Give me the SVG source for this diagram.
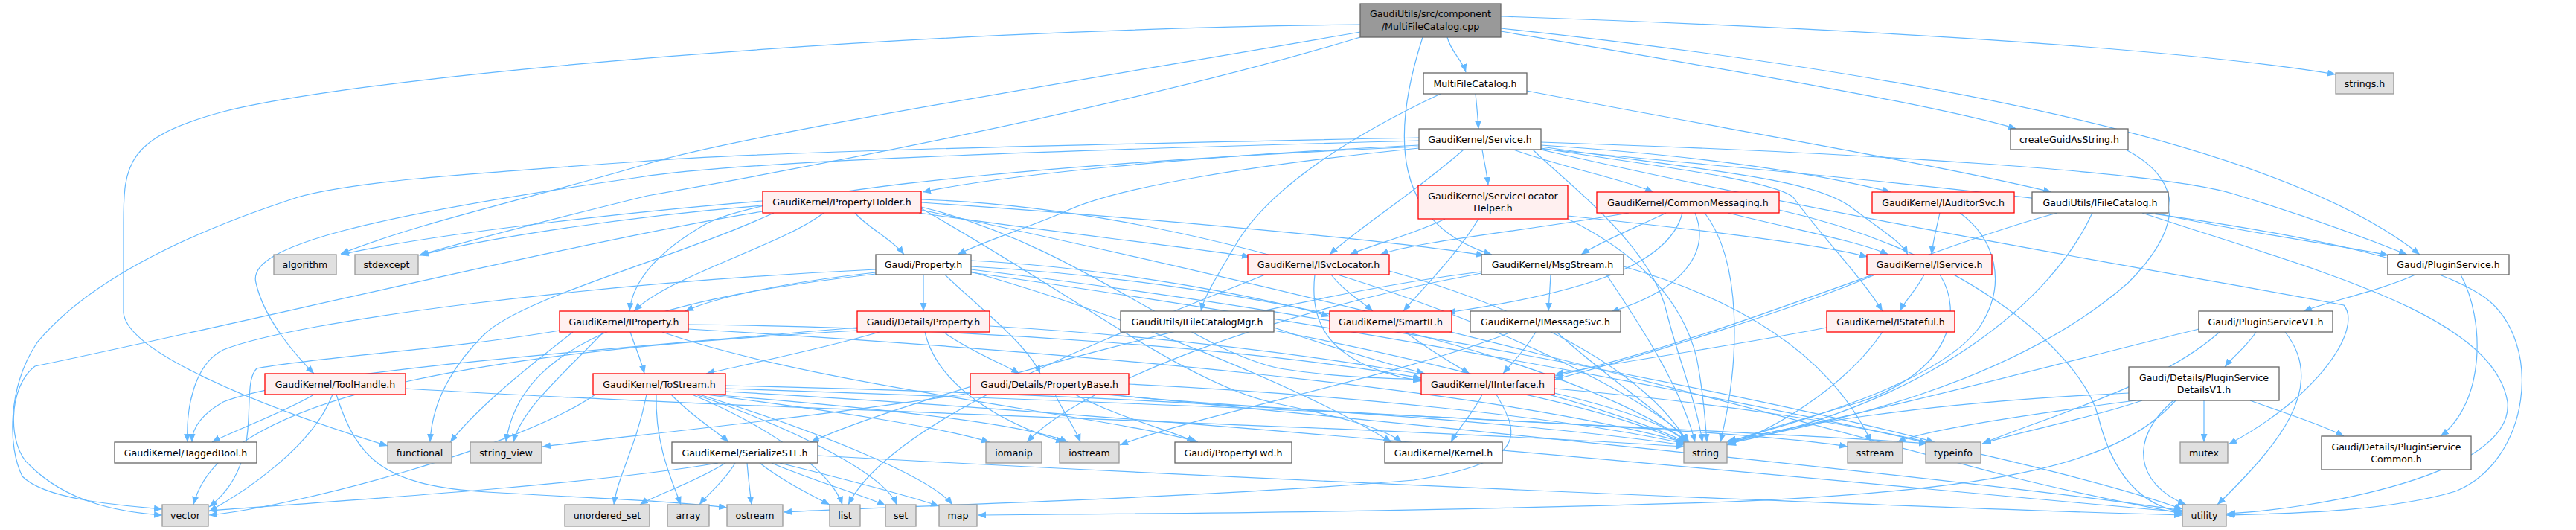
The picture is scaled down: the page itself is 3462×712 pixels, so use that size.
<svg xmlns="http://www.w3.org/2000/svg" width="3462" height="712" viewBox="0 0 3462 712">
<defs>
<marker id="ah" viewBox="0 0 11 9" refX="11" refY="4.5" markerUnits="userSpaceOnUse" markerWidth="11" markerHeight="9" orient="auto">
<path d="M0,0 L11,4.5 L0,9 z" fill="#63b8ff"/>
</marker>
<style>
.e{fill:none;stroke:#63b8ff;stroke-width:1.2;marker-end:url(#ah)}
rect{stroke-width:1.3}
.root{fill:#999999;stroke:#666666}
.w{fill:#ffffff;stroke:#666666}
.g{fill:#e0e0e0;stroke:#999999}
.r{fill:#fff0f0;stroke:#ff0000}
text{font-family:"DejaVu Sans","Liberation Sans",Arial,sans-serif;font-size:12.6px;fill:#000000;text-anchor:middle}
</style>
</defs>
<rect x="0" y="0" width="3462" height="712" fill="#ffffff"/>
<g id="connectors">
<!-- root -->
<path class="e" d="M1945,50 C1950,70 1965,80 1970,97"/>
<path class="e" d="M2017,22 C2400,35 2900,60 3139,100"/>
<path class="e" d="M2017,42 C2300,90 2600,140 2710,173"/>
<path class="e" d="M1912,50 C1870,180 1870,300 2005,342"/>
<path class="e" d="M2017,38 C2500,90 3050,180 3252,342"/>
<path class="e" d="M1828,33 C1200,40 500,100 300,150 C170,185 166,220 166,300 L166,420 C170,470 330,540 521,599"/>
<path class="e" d="M1828,43 C1500,100 1000,180 870,220 C700,270 560,300 458,341"/>
<path class="e" d="M1828,50 C1500,150 1000,240 870,263 C760,290 640,320 563,343"/>
<!-- MultiFileCatalog.h -->
<path class="e" d="M1983,126 C1985,145 1986,155 1987,173"/>
<path class="e" d="M2052,122 C2300,170 2600,220 2757,258"/>
<path class="e" d="M1936,126 C1800,190 1700,260 1660,330 C1630,380 1618,400 1614,418"/>
<!-- Service.h -->
<path class="e" d="M1907,195 C1600,210 1350,235 1240,258"/>
<path class="e" d="M1992,201 C1995,220 1998,230 2000,249"/>
<path class="e" d="M2034,201 C2100,225 2180,240 2222,258"/>
<path class="e" d="M2071,195 C2300,210 2450,235 2541,258"/>
<path class="e" d="M1967,201 C1900,260 1820,310 1787,342"/>
<path class="e" d="M2071,197 C2300,230 2440,240 2490,280 C2530,310 2555,325 2564,342"/>
<path class="e" d="M2071,199 C2200,220 2380,240 2410,265 C2450,320 2500,370 2530,418"/>
<path class="e" d="M2071,191 C2500,205 2900,230 3000,260 C3100,290 3180,320 3235,342"/>
<path class="e" d="M1907,199 C1700,220 1500,250 1430,285 C1370,310 1320,325 1287,342"/>
<path class="e" d="M1907,197 C1500,215 1050,250 950,300 C880,340 850,380 846,418"/>
<path class="e" d="M1907,189 C1500,200 1000,215 860,238 C500,290 330,330 344,380 C355,430 400,480 422,502"/>
<path class="e" d="M1907,185 C1400,195 1000,205 860,217 C600,235 470,245 400,265 C200,330 100,400 50,460 C10,520 10,600 30,640 C60,670 150,678 218,684"/>
<path class="e" d="M2071,201 C2500,300 3000,380 3150,410 C3175,440 3120,530 2995,597"/>
<path class="e" d="M2071,200 C2600,250 3200,300 3340,400 C3420,460 3400,620 3300,660 C3200,690 3050,690 2992,692"/>
<path class="e" d="M2060,201 C2110,250 2220,330 2240,420 C2255,480 2280,540 2288,594"/>
<!-- createGuidAsString.h -->
<path class="e" d="M2857,201 C2950,250 2920,320 2860,380 C2700,520 2450,570 2322,594"/>
<!-- PropertyHolder.h -->
<path class="e" d="M1149,286 C1165,305 1200,322 1215,342"/>
<path class="e" d="M1107,286 C1050,330 900,370 852,418"/>
<path class="e" d="M1235,286 C1400,310 1580,330 1680,345"/>
<path class="e" d="M1238,272 C1500,290 1850,320 1995,343"/>
<path class="e" d="M1238,278 C1450,330 1600,470 1720,495 C1800,508 1870,508 1910,510"/>
<path class="e" d="M1238,280 C1450,400 1600,520 1720,543 C1800,560 1860,575 1884,594"/>
<path class="e" d="M1025,270 C900,280 600,310 458,342"/>
<path class="e" d="M1025,276 C850,290 650,320 565,343"/>
<path class="e" d="M1025,284 C800,320 300,440 47,492 C10,520 10,600 40,625 C90,675 160,688 218,692"/>
<path class="e" d="M1040,286 C900,350 700,400 650,450 C600,500 580,550 578,594"/>
<path class="e" d="M1238,268 C1600,280 2000,420 2200,540 C2240,565 2260,580 2270,594"/>
<path class="e" d="M1238,282 C1800,400 2400,560 2700,640 C2800,665 2880,680 2933,690"/>
<!-- ServiceLocatorHelper.h -->
<path class="e" d="M1942,294 C1900,315 1840,330 1814,342"/>
<path class="e" d="M1987,294 C1960,340 1910,390 1886,418"/>
<path class="e" d="M2107,290 C2300,310 2450,330 2510,345"/>
<path class="e" d="M2107,294 C2200,340 2260,400 2280,480 C2290,530 2292,570 2294,594"/>
<!-- CommonMessaging.h -->
<path class="e" d="M2189,286 C2050,310 1900,325 1855,342"/>
<path class="e" d="M2239,286 C2200,305 2150,325 2125,342"/>
<path class="e" d="M2261,286 C2245,350 2150,390 1945,420"/>
<path class="e" d="M2278,286 C2300,340 2260,390 2165,419"/>
<path class="e" d="M2322,286 C2420,310 2500,325 2538,342"/>
<path class="e" d="M2291,286 C2340,350 2340,480 2312,594"/>
<path class="e" d="M2391,282 C2650,340 2800,480 2820,560 C2840,640 2880,680 2933,688"/>
<!-- IAuditorSvc.h -->
<path class="e" d="M2607,286 C2603,305 2598,322 2596,342"/>
<path class="e" d="M2634,286 C2680,320 2700,380 2660,440 C2600,520 2400,570 2321,594"/>
<!-- IFileCatalog.h -->
<path class="e" d="M2765,286 C2600,330 2300,460 2090,505"/>
<path class="e" d="M2812,286 C2760,400 2600,540 2322,596"/>
<path class="e" d="M2896,286 C3000,310 3150,330 3210,343"/>
<path class="e" d="M2879,286 C3100,360 3350,420 3370,540 C3380,640 3100,685 2993,690"/>
<!-- Gaudi/Property.h -->
<path class="e" d="M1241,369 C1241,385 1241,400 1241,418"/>
<path class="e" d="M1270,369 C1300,400 1380,460 1398,502"/>
<path class="e" d="M1177,366 C1050,380 960,400 921,418"/>
<path class="e" d="M1305,350 C1500,360 1700,400 1787,425"/>
<path class="e" d="M1177,362 C800,380 400,430 300,470 C260,490 250,550 252,594"/>
<path class="e" d="M1305,365 C1500,420 1750,520 1870,594"/>
<path class="e" d="M1305,358 C1700,380 2100,480 2270,594"/>
<path class="e" d="M1177,368 C900,400 700,450 680,594"/>
<path class="e" d="M1305,362 C1800,420 2400,540 2600,594"/>
<path class="e" d="M1305,366 C1900,450 2700,600 2933,684"/>
<!-- ISvcLocator.h -->
<path class="e" d="M1789,369 C1805,390 1830,405 1845,418"/>
<path class="e" d="M1767,369 C1760,430 1780,490 1910,512"/>
<path class="e" d="M1867,364 C2000,400 2200,480 2268,594"/>
<path class="e" d="M1700,369 C1500,450 1200,560 1140,678"/>
<!-- MsgStream.h -->
<path class="e" d="M2084,369 C2083,390 2082,400 2081,418"/>
<path class="e" d="M1991,365 C1700,400 1200,540 1090,594"/>
<path class="e" d="M1991,367 C1700,420 1450,520 1380,594"/>
<path class="e" d="M2182,358 C2400,420 2480,520 2515,594"/>
<path class="e" d="M2159,369 C2200,430 2260,520 2278,594"/>
<!-- IService.h -->
<path class="e" d="M2586,369 C2575,390 2560,405 2553,418"/>
<path class="e" d="M2520,369 C2400,420 2200,480 2089,510"/>
<path class="e" d="M2607,369 C2640,420 2620,500 2500,540 C2400,570 2340,585 2321,598"/>
<!-- Gaudi/PluginService.h -->
<path class="e" d="M3246,369 C3200,390 3130,405 3096,418"/>
<path class="e" d="M3307,369 C3340,430 3340,540 3280,586"/>
<!-- IProperty.h -->
<path class="e" d="M925,436 C1300,440 1700,470 1910,508"/>
<path class="e" d="M847,446 C855,470 862,485 866,502"/>
<path class="e" d="M811,446 C760,500 700,550 690,594"/>
<path class="e" d="M925,442 C1400,470 2000,520 2270,596"/>
<path class="e" d="M890,446 C1100,520 1500,560 1610,594"/>
<path class="e" d="M752,444 C600,470 420,480 345,495 C320,520 360,620 281,681"/>
<path class="e" d="M770,446 C700,500 640,550 605,594"/>
<!-- Gaudi/Details/Property.h -->
<path class="e" d="M1268,446 C1300,470 1350,490 1370,502"/>
<path class="e" d="M1182,446 C1100,470 1000,490 949,502"/>
<path class="e" d="M1243,446 C1260,520 1350,570 1430,594"/>
<path class="e" d="M1152,440 C800,470 400,500 300,540 C265,560 258,580 258,594"/>
<path class="e" d="M1330,438 C1700,460 2100,520 2266,596"/>
<path class="e" d="M1152,444 C700,470 300,520 260,678"/>
<!-- SmartIF.h -->
<path class="e" d="M1889,446 C1920,470 1955,490 1975,502"/>
<!-- IMessageSvc.h -->
<path class="e" d="M2064,446 C2050,470 2030,490 2020,502"/>
<path class="e" d="M2092,446 C2150,500 2240,560 2270,594"/>
<path class="e" d="M2031,446 C1900,500 1600,560 1505,598"/>
<!-- IStateful.h -->
<path class="e" d="M2455,440 C2300,470 2150,490 2090,503"/>
<path class="e" d="M2530,446 C2480,520 2380,580 2322,598"/>
<!-- IFileCatalogMgr.h -->
<path class="e" d="M1712,440 C1800,470 1870,490 1915,502"/>
<path class="e" d="M1712,444 C1900,480 2150,540 2266,594"/>
<!-- PluginServiceV1.h -->
<path class="e" d="M3032,446 C3020,465 3000,480 2990,493"/>
<path class="e" d="M2955,442 C2800,480 2500,560 2322,592"/>
<path class="e" d="M2983,446 C2900,520 2750,560 2664,596"/>
<path class="e" d="M3071,446 C3130,520 3060,600 2980,678"/>
<!-- ToolHandle.h -->
<path class="e" d="M422,530 C380,555 310,580 285,594"/>
<path class="e" d="M447,530 C420,600 330,660 281,687"/>
<path class="e" d="M545,522 C1000,550 1800,570 2263,600"/>
<path class="e" d="M452,530 C480,620 520,650 640,660 C760,668 900,672 977,682"/>
<!-- ToStream.h -->
<path class="e" d="M902,530 C930,560 965,580 979,594"/>
<path class="e" d="M882,530 C880,600 905,650 915,678"/>
<path class="e" d="M949,530 C1100,550 1250,570 1330,594"/>
<path class="e" d="M955,530 C1200,550 1380,570 1435,594"/>
<path class="e" d="M930,530 C1050,580 1120,640 1132,678"/>
<path class="e" d="M940,530 C1100,580 1250,640 1280,678"/>
<path class="e" d="M935,530 C1080,580 1190,640 1205,678"/>
<path class="e" d="M975,522 C1500,540 2300,570 2483,600"/>
<path class="e" d="M975,518 C1500,530 2000,560 2263,598"/>
<path class="e" d="M869,530 C855,600 830,640 825,678"/>
<path class="e" d="M975,526 C1600,560 2500,650 2933,688"/>
<path class="e" d="M800,530 C700,600 400,680 281,692"/>
<!-- PropertyBase.h -->
<path class="e" d="M1445,530 C1500,560 1580,580 1606,594"/>
<path class="e" d="M1418,530 C1430,555 1445,575 1452,594"/>
<path class="e" d="M1517,516 C1800,530 2100,560 2264,596"/>
<path class="e" d="M1304,528 C1100,560 850,585 729,600"/>
<path class="e" d="M1485,530 C1800,560 2400,580 2590,596"/>
<path class="e" d="M1490,530 C2000,580 2700,650 2933,686"/>
<!-- IInterface.h -->
<path class="e" d="M1992,530 C1980,555 1960,575 1950,594"/>
<path class="e" d="M2011,530 C2040,580 2060,620 1900,645 C1600,670 1200,680 1053,688"/>
<path class="e" d="M2089,522 C2300,540 2500,570 2590,596"/>
<path class="e" d="M2089,528 C2180,550 2240,570 2266,594"/>
<!-- PluginServiceDetailsV1.h -->
<path class="e" d="M3024,538 C3070,555 3120,570 3150,586"/>
<path class="e" d="M2962,538 C2962,560 2962,575 2962,594"/>
<path class="e" d="M2921,538 C2860,590 2870,650 2938,678"/>
<path class="e" d="M2879,538 C2800,565 2710,580 2665,596"/>
<path class="e" d="M2861,528 C2600,540 2400,570 2322,596"/>
<path class="e" d="M2870,538 C2700,560 2580,580 2550,594"/>
<path class="e" d="M2924,538 C2850,620 2700,660 2300,675 C1800,690 1500,690 1314,692"/>
<!-- SerializeSTL.h -->
<path class="e" d="M965,622 C800,650 500,670 281,686"/>
<path class="e" d="M975,622 C930,650 880,665 860,678"/>
<path class="e" d="M988,622 C975,645 950,665 940,678"/>
<path class="e" d="M1004,622 C1006,645 1008,662 1010,678"/>
<path class="e" d="M1021,622 C1050,645 1090,665 1115,678"/>
<path class="e" d="M1037,622 C1090,645 1160,665 1190,679"/>
<path class="e" d="M1048,622 C1120,640 1220,665 1262,680"/>
<path class="e" d="M1099,612 C1600,640 2500,680 2933,692"/>
</g>
<g id="n-root"><rect class="root" x="1828" y="5" width="189" height="45"/><text x="1922.5" y="22.5">GaudiUtils/src/component</text><text x="1922.5" y="39.5">/MultiFileCatalog.cpp</text></g>
<g id="n-multifilecatalog"><rect class="w" x="1913" y="98" width="139" height="28"/><text x="1982.5" y="116.5">MultiFileCatalog.h</text></g>
<g id="n-strings"><rect class="g" x="3139" y="98" width="78" height="28"/><text x="3178" y="116.5">strings.h</text></g>
<g id="n-service"><rect class="w" x="1907" y="173" width="164" height="28"/><text x="1989" y="191.5">GaudiKernel/Service.h</text></g>
<g id="n-createguid"><rect class="w" x="2702" y="173" width="158" height="28"/><text x="2781" y="191.5">createGuidAsString.h</text></g>
<g id="n-propertyholder"><rect class="r" x="1025" y="257" width="213" height="29"/><text x="1131.5" y="276">GaudiKernel/PropertyHolder.h</text></g>
<g id="n-servicelocatorhelper"><rect class="r" x="1906" y="249" width="201" height="45"/><text x="2006.5" y="267.5">GaudiKernel/ServiceLocator</text><text x="2006.5" y="283.5">Helper.h</text></g>
<g id="n-commonmessaging"><rect class="r" x="2146" y="258" width="245" height="28"/><text x="2268.5" y="276.5">GaudiKernel/CommonMessaging.h</text></g>
<g id="n-iauditorsvc"><rect class="r" x="2516" y="258" width="191" height="28"/><text x="2611.5" y="276.5">GaudiKernel/IAuditorSvc.h</text></g>
<g id="n-ifilecatalog"><rect class="w" x="2731" y="258" width="183" height="28"/><text x="2822.5" y="276.5">GaudiUtils/IFileCatalog.h</text></g>
<g id="n-algorithm"><rect class="g" x="368" y="342" width="84" height="27"/><text x="410" y="360">algorithm</text></g>
<g id="n-stdexcept"><rect class="g" x="477" y="342" width="85" height="27"/><text x="519.5" y="360">stdexcept</text></g>
<g id="n-property"><rect class="w" x="1177" y="342" width="128" height="27"/><text x="1241" y="360">Gaudi/Property.h</text></g>
<g id="n-isvclocator"><rect class="r" x="1677" y="342" width="190" height="27"/><text x="1772" y="360">GaudiKernel/ISvcLocator.h</text></g>
<g id="n-msgstream"><rect class="w" x="1991" y="342" width="191" height="27"/><text x="2086.5" y="360">GaudiKernel/MsgStream.h</text></g>
<g id="n-iservice"><rect class="r" x="2509" y="342" width="168" height="27"/><text x="2593" y="360">GaudiKernel/IService.h</text></g>
<g id="n-pluginservice"><rect class="w" x="3209" y="342" width="163" height="27"/><text x="3290.5" y="360">Gaudi/PluginService.h</text></g>
<g id="n-iproperty"><rect class="r" x="752" y="418" width="173" height="28"/><text x="838.5" y="436.5">GaudiKernel/IProperty.h</text></g>
<g id="n-detailsproperty"><rect class="r" x="1152" y="418" width="178" height="28"/><text x="1241" y="436.5">Gaudi/Details/Property.h</text></g>
<g id="n-smartif"><rect class="r" x="1787" y="418" width="164" height="28"/><text x="1869" y="436.5">GaudiKernel/SmartIF.h</text></g>
<g id="n-imessagesvc"><rect class="w" x="1976" y="418" width="202" height="28"/><text x="2077" y="436.5">GaudiKernel/IMessageSvc.h</text></g>
<g id="n-istateful"><rect class="r" x="2455" y="418" width="172" height="28"/><text x="2541" y="436.5">GaudiKernel/IStateful.h</text></g>
<g id="n-ifilecatalogmgr"><rect class="w" x="1506" y="418" width="206" height="28"/><text x="1609" y="436.5">GaudiUtils/IFileCatalogMgr.h</text></g>
<g id="n-pluginservicev1"><rect class="w" x="2955" y="418" width="180" height="28"/><text x="3045" y="436.5">Gaudi/PluginServiceV1.h</text></g>
<g id="n-toolhandle"><rect class="r" x="356" y="502" width="189" height="28"/><text x="450.5" y="520.5">GaudiKernel/ToolHandle.h</text></g>
<g id="n-tostream"><rect class="r" x="797" y="502" width="178" height="28"/><text x="886" y="520.5">GaudiKernel/ToStream.h</text></g>
<g id="n-propertybase"><rect class="r" x="1304" y="502" width="213" height="28"/><text x="1410.5" y="520.5">Gaudi/Details/PropertyBase.h</text></g>
<g id="n-iinterface"><rect class="r" x="1910" y="502" width="179" height="28"/><text x="1999.5" y="520.5">GaudiKernel/IInterface.h</text></g>
<g id="n-pluginservicedetailsv1"><rect class="w" x="2861" y="493" width="202" height="45"/><text x="2962" y="511.5">Gaudi/Details/PluginService</text><text x="2962" y="527.5">DetailsV1.h</text></g>
<g id="n-taggedbool"><rect class="w" x="154" y="594" width="191" height="28"/><text x="249.5" y="612.5">GaudiKernel/TaggedBool.h</text></g>
<g id="n-functional"><rect class="g" x="521" y="594" width="86" height="28"/><text x="564" y="612.5">functional</text></g>
<g id="n-string_view"><rect class="g" x="632" y="594" width="96" height="28"/><text x="680" y="612.5">string_view</text></g>
<g id="n-serializestl"><rect class="w" x="903" y="594" width="196" height="28"/><text x="1001" y="612.5">GaudiKernel/SerializeSTL.h</text></g>
<g id="n-iomanip"><rect class="g" x="1325" y="594" width="75" height="28"/><text x="1362.5" y="612.5">iomanip</text></g>
<g id="n-iostream"><rect class="g" x="1424" y="594" width="80" height="28"/><text x="1464" y="612.5">iostream</text></g>
<g id="n-propertyfwd"><rect class="w" x="1579" y="594" width="157" height="28"/><text x="1657.5" y="612.5">Gaudi/PropertyFwd.h</text></g>
<g id="n-kernel"><rect class="w" x="1861" y="594" width="158" height="28"/><text x="1940" y="612.5">GaudiKernel/Kernel.h</text></g>
<g id="n-string"><rect class="g" x="2263" y="594" width="58" height="28"/><text x="2292" y="612.5">string</text></g>
<g id="n-sstream"><rect class="g" x="2483" y="594" width="74" height="28"/><text x="2520" y="612.5">sstream</text></g>
<g id="n-typeinfo"><rect class="g" x="2588" y="594" width="74" height="28"/><text x="2625" y="612.5">typeinfo</text></g>
<g id="n-mutex"><rect class="g" x="2930" y="594" width="64" height="28"/><text x="2962" y="612.5">mutex</text></g>
<g id="n-pluginservicecommon"><rect class="w" x="3120" y="586" width="201" height="45"/><text x="3220.5" y="604.5">Gaudi/Details/PluginService</text><text x="3220.5" y="620.5">Common.h</text></g>
<g id="n-vector"><rect class="g" x="218" y="678" width="62" height="29"/><text x="249" y="697">vector</text></g>
<g id="n-unordered_set"><rect class="g" x="759" y="678" width="114" height="29"/><text x="816" y="697">unordered_set</text></g>
<g id="n-array"><rect class="g" x="897" y="678" width="56" height="29"/><text x="925" y="697">array</text></g>
<g id="n-ostream"><rect class="g" x="977" y="678" width="75" height="29"/><text x="1014.5" y="697">ostream</text></g>
<g id="n-list"><rect class="g" x="1115" y="678" width="41" height="29"/><text x="1135.5" y="697">list</text></g>
<g id="n-set"><rect class="g" x="1190" y="678" width="41" height="29"/><text x="1210.5" y="697">set</text></g>
<g id="n-map"><rect class="g" x="1262" y="678" width="51" height="29"/><text x="1287.5" y="697">map</text></g>
<g id="n-utility"><rect class="g" x="2933" y="678" width="59" height="29"/><text x="2962.5" y="697">utility</text></g>
</svg>
